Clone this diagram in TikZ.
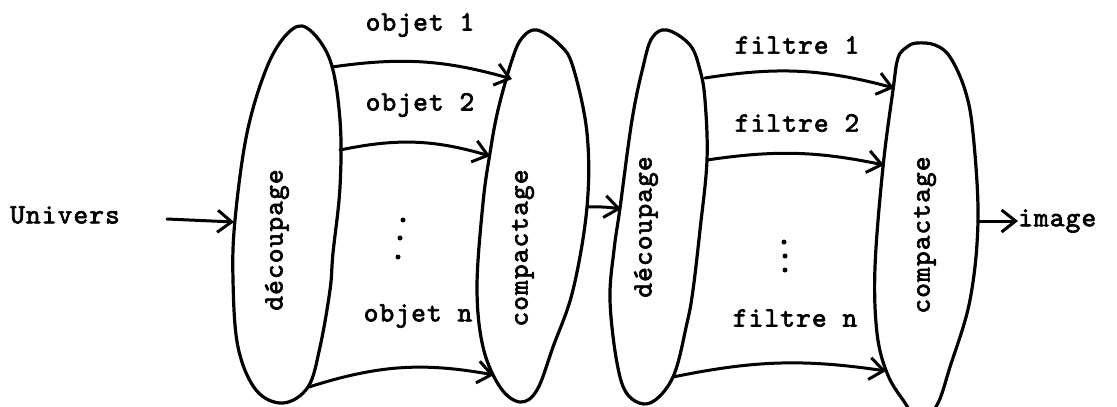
\documentclass[tikz,border=0pt]{standalone}
\usepackage{fontspec}
\usetikzlibrary{arrows.meta}
% typewriter lettering, wide pitch
\newfontfamily\tw{lmmono10-regular.otf}[FakeBold=2.4,LetterSpace=4]
\begin{document}
\begin{tikzpicture}[x=1pt,y=-1pt,
  blob/.style={line width=3.2pt, line join=round},
  flow/.style={line width=3pt, line cap=round,
    -{Straight Barb[length=14pt,width=22pt]}},
  lbl/.style={font=\tw\fontsize{28}{30}\selectfont, inner sep=0pt},
  dot/.style={circle, fill, inner sep=0pt, minimum size=5pt}]
\useasboundingbox (0,0) rectangle (1117,407);

% stage outlines
\draw[blob] plot[smooth cycle, tension=0.6] coordinates {(307,28) (330,60) (340,120) (340,187) (333,253) (330,290) (320,347) (308,387) (283,403) (256,390) (238,347) (233,280) (235,220) (247,133) (267,67) (288,33)};
\draw[blob] plot[smooth cycle, tension=0.6] coordinates {(537,30) (560,45) (573,67) (587,133) (587,207) (573,290) (553,347) (537,390) (520,402) (500,387) (483,347) (477,287) (483,203) (490,153) (498,110) (512,60) (522,38)};
\draw[blob] plot[smooth cycle, tension=0.6] coordinates {(667,30) (690,45) (700,70) (705,100) (707,160) (700,230) (693,290) (687,323) (673,377) (650,403) (628,395) (617,363) (610,300) (614,250) (620,208) (632,120) (643,67) (652,38)};
\draw[blob] plot[smooth cycle, tension=0.6] coordinates {(917,43) (935,45) (950,57) (965,90) (973,133) (978,220) (970,300) (950,367) (937,405) (920,420) (903,400) (887,373) (877,333) (875,267) (883,167) (893,90) (898,58) (907,47)};

% stage names
\node[lbl, rotate=90] (s1) at (277,240) {découpage};
\node[lbl, rotate=90] (s2) at (523,248) {compactage};
\node[lbl, rotate=90] (s3) at (646,227) {découpage};
\node[lbl, rotate=90] (s4) at (925,235) {compactage};

% labels
\node[lbl] (univ) at (65,215) {Univers};
\node[lbl, anchor=west] (img) at (1018,221) {image};
\node[lbl] (o1) at (420,25) {objet 1};
\node[lbl] (o2) at (420,105) {objet 2};
\node[lbl] (on) at (418,316) {objet n};
\node[lbl] (f1) at (797,45) {filtre 1};
\node[lbl] (f2) at (797,123) {filtre 2};
\node[lbl] (fn) at (795,318) {filtre n};

% vertical ellipses
\node[dot] (oda) at (403,220) {};
\node[dot] (odb) at (400,238) {};
\node[dot] (odc) at (398,257) {};
\node[dot] (fda) at (784,242) {};
\node[dot] (fdb) at (785,256) {};
\node[dot] (fdc) at (785,270) {};

% connector ends on the outlines
\coordinate (u0) at (167,219);
\coordinate (d1w) at (234,222);
\coordinate (d1a) at (332,67);   \coordinate (c1a) at (512,79);
\coordinate (d1b) at (340,150);  \coordinate (c1b) at (490,156);
\coordinate (d1n) at (309,387);  \coordinate (c1n) at (494,375);
\coordinate (c1e) at (587,207);  \coordinate (d2w) at (621,209);
\coordinate (d2a) at (705,78);   \coordinate (c2a) at (894,88);
\coordinate (d2b) at (707,160);  \coordinate (c2b) at (884,165);
\coordinate (d2n) at (673,377);  \coordinate (c2n) at (886,371);
\coordinate (c2e) at (978,221);

% flows
\draw[flow] (u0) -- (d1w);
\draw[flow] (d1a) to[bend left=12] (c1a);
\draw[flow] (d1b) to[bend left=14] (c1b);
\draw[flow] (d1n) to[bend left=14] (c1n);
\draw[flow] (c1e) to[bend left=5] (d2w);
\draw[flow] (d2a) to[bend left=12] (c2a);
\draw[flow] (d2b) to[bend left=10] (c2b);
\draw[flow] (d2n) to[bend left=10] (c2n);
\draw[flow] (c2e) -- (img.west);
\end{tikzpicture}
\end{document}
